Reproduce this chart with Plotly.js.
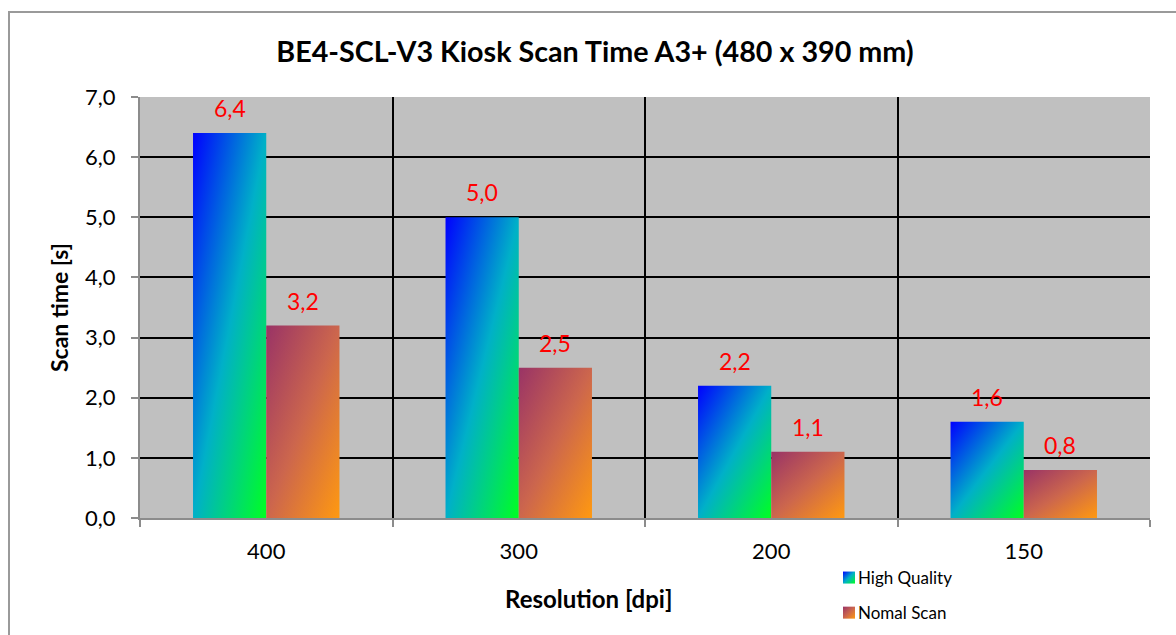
<!DOCTYPE html>
<html>
<head>
<meta charset="utf-8">
<script src="https://cdn.plot.ly/plotly-3.0.1.min.js"></script>
<style>
  html, body { margin: 0; padding: 0; background: #fff; }
  #wrap { position: relative; width: 1176px; height: 635px; overflow: hidden; }
  #chart { width: 1176px; height: 635px; }
  #frame { position: absolute; left: 8px; top: 11px; width: 1300px; height: 800px;
           border-left: 2px solid #9a9a9a; border-top: 2px solid #9a9a9a; pointer-events: none; }
</style>
</head>
<body>
<div id="wrap">
  <div id="chart"></div>
  <div id="frame"></div>
</div>
<script>
const categories = ["400", "300", "200", "150"];
const highQuality = [6.4, 5.0, 2.2, 1.6];
const normalScan = [3.2, 2.5, 1.1, 0.8];
const seriesNames = ["High Quality", "Nomal Scan"];
const chartTitle = "BE4-SCL-V3 Kiosk Scan Time A3+ (480 x 390 mm)";
const xTitle = "Resolution [dpi]";
const yTitle = "Scan time [s]";

const FONT = "Lato, 'Open Sans', sans-serif";
const BARGAP = 0.42;

const traces = [
  {
    type: "bar", name: seriesNames[0], x: categories, y: highQuality,
    legendgroup: "a", marker: { color: "#00B0C8" }, hoverinfo: "skip"
  },
  {
    type: "bar", name: seriesNames[1], x: categories, y: normalScan,
    legendgroup: "b", marker: { color: "#CC664D" }, hoverinfo: "skip"
  }
];

// value labels above each bar (positions derived from data + bar layout)
const fmt = v => v.toFixed(1).replace(".", ",");
const halfOffset = (1 - BARGAP) / 4;
const labelAnnotations = [];
[highQuality, normalScan].forEach((series, si) => {
  series.forEach((v, ci) => {
    labelAnnotations.push({
      text: fmt(v), showarrow: false,
      xref: "x", x: ci + (si === 0 ? -halfOffset : halfOffset), xanchor: "center",
      yref: "y", y: v, yanchor: "bottom", yshift: 9,
      font: { size: 23, family: FONT, color: "#FF0000" }
    });
  });
});

const layout = {
  width: 1176, height: 635,
  margin: { l: 140, r: 26, t: 97, b: 117, autoexpand: false },
  paper_bgcolor: "rgba(0,0,0,0)",
  plot_bgcolor: "#C0C0C0",
  separators: ", ",
  font: { family: FONT, color: "#000" },
  barmode: "group",
  bargap: BARGAP,
  bargroupgap: 0,
  title: {
    text: "<b>" + chartTitle + "</b>",
    xref: "container", x: 0.506, xanchor: "center",
    yref: "container", y: 1 - 52 / 635, yanchor: "middle",
    font: { size: 28.7, family: FONT, color: "#000" }
  },
  xaxis: {
    type: "category",
    tickson: "boundaries",
    showgrid: true, gridcolor: "#000", gridwidth: 2,
    showline: true, linecolor: "#8c8c8c", linewidth: 2,
    ticks: "outside", ticklen: 7, tickcolor: "#8c8c8c", tickwidth: 2,
    ticklabelstandoff: 13,
    tickfont: { size: 22, family: FONT, color: "#000" },
    zeroline: false, fixedrange: true
  },
  yaxis: {
    range: [0, 7], dtick: 1, tick0: 0, tickformat: ".1f",
    showgrid: true, gridcolor: "#000", gridwidth: 2,
    showline: true, linecolor: "#8c8c8c", linewidth: 2,
    ticks: "outside", ticklen: 7, tickcolor: "#8c8c8c", tickwidth: 2,
    ticklabelstandoff: 11,
    tickfont: { size: 22, family: FONT, color: "#000" },
    zeroline: false, fixedrange: true,
    title: { text: "<b>" + yTitle + "</b>", standoff: 10, font: { size: 23, family: FONT, color: "#000" } }
  },
  showlegend: true,
  legend: {
    x: (829 - 140) / 1010, xanchor: "left",
    y: (518 - 560) / 421, yanchor: "top",
    traceorder: "grouped", tracegroupgap: 10,
    bgcolor: "rgba(0,0,0,0)",
    font: { size: 17, family: FONT, color: "#000" },
    itemwidth: 30
  },
  annotations: [
    {
      text: "<b>" + xTitle + "</b>", showarrow: false,
      xref: "paper", x: (589 - 140) / 1010, xanchor: "center",
      yref: "paper", y: (518 - 598) / 421, yanchor: "middle",
      font: { size: 24, family: FONT, color: "#000" }
    }
  ].concat(labelAnnotations)
};

function addGradients(gd) {
  const svg = gd.querySelector("svg.main-svg");
  const ns = "http://www.w3.org/2000/svg";
  let defs = svg.querySelector("defs");
  if (!defs) { defs = document.createElementNS(ns, "defs"); svg.insertBefore(defs, svg.firstChild); }
  const grads = {
    gHQ: [["0%", "#0000FF"], ["50%", "#00B0C8"], ["100%", "#00FF22"]],
    gNS: [["0%", "#993366"], ["50%", "#CC664D"], ["100%", "#FF9910"]]
  };
  Object.keys(grads).forEach(id => {
    const lg = document.createElementNS(ns, "linearGradient");
    lg.setAttribute("id", id);
    lg.setAttribute("x1", "0"); lg.setAttribute("y1", "0");
    lg.setAttribute("x2", "1"); lg.setAttribute("y2", "1");
    grads[id].forEach(s => {
      const st = document.createElementNS(ns, "stop");
      st.setAttribute("offset", s[0]);
      st.setAttribute("stop-color", s[1]);
      lg.appendChild(st);
    });
    defs.appendChild(lg);
  });
  const ids = ["gHQ", "gNS"];
  gd.querySelectorAll(".barlayer .trace.bars").forEach((t, i) => {
    t.querySelectorAll(".point path").forEach(p => { p.style.fill = "url(#" + ids[i] + ")"; });
  });
  gd.querySelectorAll(".legend .traces").forEach((t, i) => {
    t.querySelectorAll(".legendpoints path").forEach(p => { p.style.fill = "url(#" + ids[i] + ")"; p.style.stroke = "none"; });
    const txt = t.querySelector(".legendtext");
    if (txt) {
      const x0 = parseFloat(txt.getAttribute("x")) || 40;
      txt.setAttribute("x", x0 - 11);
    }
  });
}

Plotly.newPlot("chart", traces, layout, { staticPlot: true, displayModeBar: false })
  .then(gd => addGradients(gd));
</script>
</body>
</html>
